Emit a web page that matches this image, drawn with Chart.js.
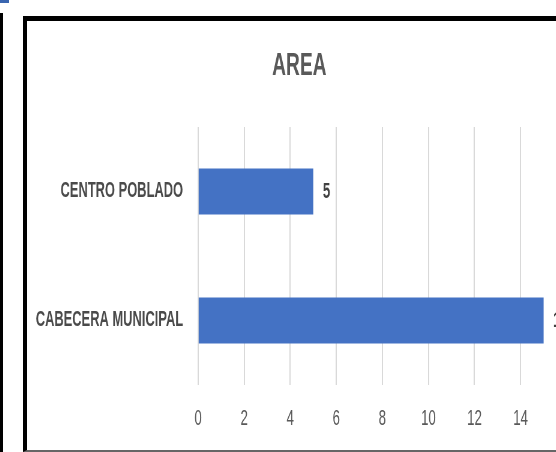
<!DOCTYPE html>
<html>
<head>
<meta charset="utf-8">
<script src="https://cdn.jsdelivr.net/npm/chart.js@4/dist/chart.umd.min.js"></script>
<style>
  html, body { margin: 0; padding: 0; background: #fff; }
  body { width: 556px; height: 452px; overflow: hidden; position: relative; }
  #blueMark { position: absolute; left: 0; top: 0; width: 9px; height: 3px; background: #3a66b0; }
  #leftLine { position: absolute; left: 0; top: 13px; width: 3px; height: 439px; background: #000; }
  #frame {
    position: absolute; left: 23px; top: 16px; width: 600px; height: 436px;
    box-sizing: border-box; border-top: 5px solid #000; border-left: 4px solid #000;
    border-bottom: 2px solid #666; z-index: 2; pointer-events: none;
  }
  /* Excel's narrow font look: draw wide, squeeze horizontally */
  #chartBox {
    position: absolute; left: 32.2px; top: 21px; width: 919px; height: 433px;
    transform: scaleX(0.6); transform-origin: left top; z-index: 1;
  }
</style>
</head>
<body>
<div id="blueMark"></div>
<div id="leftLine"></div>
<div id="chartBox"><canvas id="areaChart" width="919" height="433"></canvas></div>
<div id="frame"></div>
<script>
// Data
const categories = ['CENTRO POBLADO', 'CABECERA MUNICIPAL'];
const values = [5, 15];
const xTicks = [0, 2, 4, 6, 8, 10, 12, 14, 16];

const FONT = "'Liberation Sans', Arial, sans-serif";

// Draw value labels at the end of each bar
const valueLabels = {
  id: 'valueLabels',
  afterDatasetsDraw(chart) {
    const ctx = chart.ctx;
    const meta = chart.getDatasetMeta(0);
    ctx.save();
    ctx.font = 'bold 22px ' + FONT;
    ctx.fillStyle = '#404040';
    ctx.textAlign = 'left';
    ctx.textBaseline = 'middle';
    meta.data.forEach((bar, i) => {
      ctx.fillText(String(values[i]), bar.x + 16, bar.y);
    });
    ctx.restore();
  }
};

const chart = new Chart(document.getElementById('areaChart').getContext('2d'), {
  type: 'bar',
  data: {
    labels: categories,
    datasets: [{
      data: values,
      backgroundColor: '#4472c4',
      borderWidth: 0,
      categoryPercentage: 1,
      barPercentage: 0.357
    }]
  },
  options: {
    indexAxis: 'y',
    responsive: false,
    animation: false,
    layout: { padding: { left: 0, right: 28, top: 0, bottom: 0.6 } },
    scales: {
      x: {
        min: 0,
        max: 16,
        afterBuildTicks: (scale) => { scale.ticks = xTicks.map(v => ({ value: v })); },
        afterFit: (scale) => { scale.paddingRight = 0; scale.paddingLeft = 0; },
        grid: { color: '#d9d9d9', lineWidth: 2, drawTicks: false },
        border: { display: false },
        ticks: { color: '#595959', font: { family: FONT, size: 22 }, padding: 21, maxRotation: 0 }
      },
      y: {
        afterFit: (scale) => { scale.width = 276.8; },
        grid: { display: false, drawTicks: false },
        border: { display: false },
        ticks: { color: '#4a4a4a', font: { family: FONT, size: 21.5, weight: 'bold' }, padding: 25 }
      }
    },
    plugins: {
      legend: { display: false },
      tooltip: { enabled: false },
      title: {
        display: true,
        text: 'AREA',
        color: '#595959',
        font: { family: FONT, size: 32, weight: 'bold' },
        padding: { top: 26, bottom: 41.6 }
      }
    }
  },
  plugins: [valueLabels]
});
</script>
</body>
</html>
